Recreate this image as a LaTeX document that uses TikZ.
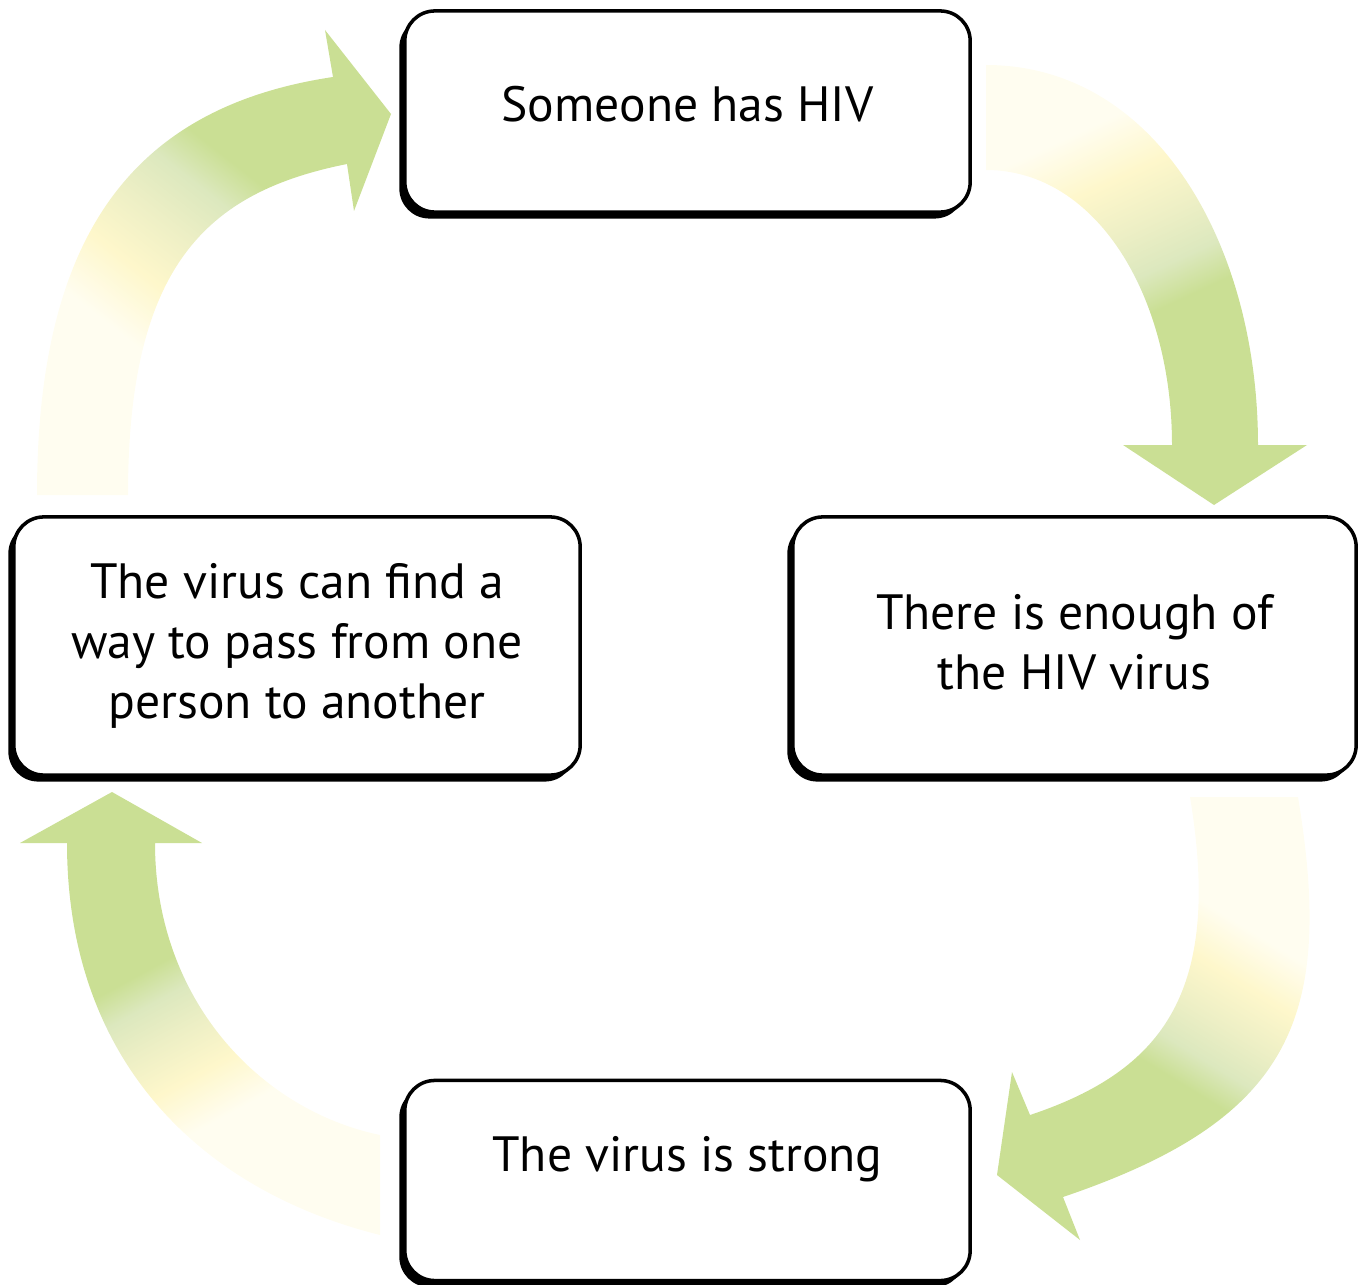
\documentclass[tikz,border=0pt]{standalone}
\usepackage{fontspec}
\setmainfont{PT Sans}
\usetikzlibrary{shadows}

\definecolor{fadecream}{HTML}{FFFDF0}
\definecolor{fadeyellow}{HTML}{FEF7CB}
\definecolor{fademid}{HTML}{EDEFC5}
\definecolor{fadegrey}{HTML}{DCE8BE}
\definecolor{fadegreen}{HTML}{CADF94}
\pgfdeclarehorizontalshading{cyclefade}{100bp}{color(0bp)=(fadecream); color(46.9bp)=(fadecream); color(50bp)=(fadeyellow); color(52.8bp)=(fademid); color(55.2bp)=(fadegrey); color(57.2bp)=(fadegreen); color(100bp)=(fadegreen)}

\begin{document}
\begin{tikzpicture}[x=0.01cm, y=-0.01cm,
    cyclebox/.style={draw, line width=1pt, rounded corners=0.3cm, fill=white, align=center,
        minimum width=5.65cm, minimum height=2cm, font=\fontsize{14.1}{17}\selectfont,
        drop shadow={shadow xshift=-0.055cm, shadow yshift=-0.065cm, fill=black, opacity=1}}]
    \useasboundingbox (0,0) rectangle (1360,1285);

    % arrow: left box up to top box
    \begin{scope}
        \clip (37,495) .. controls (37,235) and (133,107) .. (333,77) -- (325,30) -- (391,114) -- (354,211)
            -- (347,164) .. controls (207,192) and (128,265) .. (128,495) -- cycle;
        \shade[shading=cyclefade, shading angle=52] (-378,-242) rectangle (612,748);
    \end{scope}
    % arrow: top box down to right box
    \begin{scope}
        \clip (986,65) .. controls (1156,65) and (1258,245) .. (1258,445) -- (1307,445) -- (1214,505) -- (1123,445)
            -- (1172,445) .. controls (1172,295) and (1096,170) .. (986,170) -- cycle;
        \shade[shading=cyclefade, shading angle=-65] (669.5,-305.5) rectangle (1614.5,639.5);
    \end{scope}
    % arrow: right box down to bottom box
    \begin{scope}
        \clip (1298,797) .. controls (1335,1020) and (1290,1120) .. (1063,1197) -- (1080,1240) -- (997,1175) -- (1012,1072)
            -- (1030,1115) .. controls (1165,1070) and (1222,990) .. (1190,797) -- cycle;
        \shade[shading=cyclefade, shading angle=-121.5] (842,582) rectangle (1652,1392);
    \end{scope}
    % arrow: bottom box up to left box
    \begin{scope}
        \clip (380,1235) .. controls (200,1190) and (67,1060) .. (67,843) -- (20,843) -- (112,792) -- (202,843)
            -- (155,843) .. controls (155,1000) and (260,1110) .. (380,1135) -- cycle;
        \shade[shading=cyclefade, shading angle=118.6] (-218,675) rectangle (592,1485);
    \end{scope}

    \node[cyclebox, minimum height=2.01cm, text depth=0.15cm] (hiv) at (687.5,111.5) {Someone has HIV};
    \node[cyclebox, minimum width=5.63cm, minimum height=2.58cm, text depth=0.08cm] (enough) at (1074.5,646) {There is enough of\\the HIV virus};
    \node[cyclebox, minimum width=5.66cm, minimum height=2.58cm] (pass) at (297,646) {The virus can find a\\way to pass from one\\person to another};
    \node[cyclebox, text depth=0.54cm] (strong) at (687.5,1180.5) {The virus is strong};
\end{tikzpicture}
\end{document}
